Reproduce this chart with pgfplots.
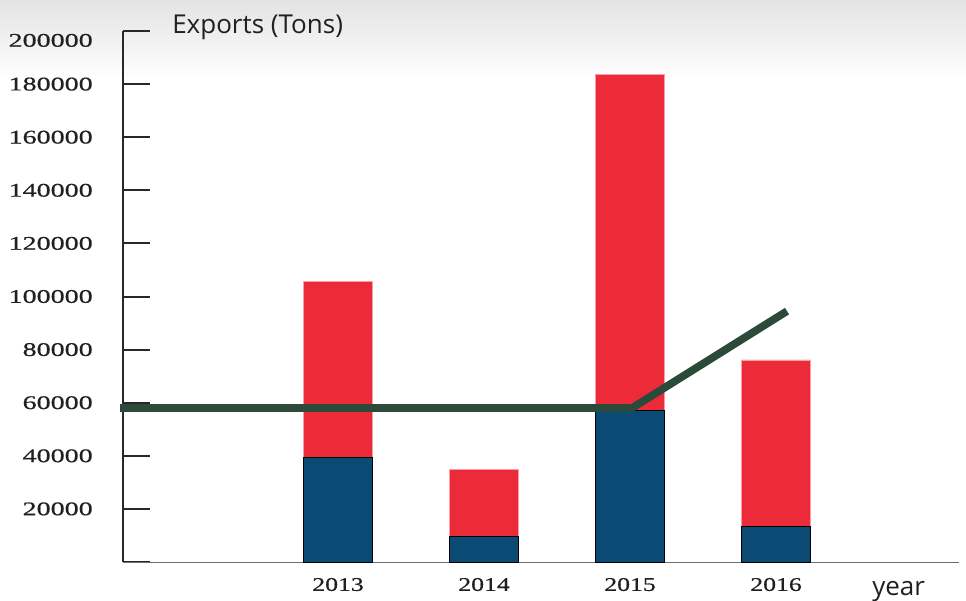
\documentclass[border=0pt]{standalone}
\usepackage{fontspec}
\usepackage{pgfplots}
\pgfplotsset{compat=1.18}
\setmainfont{Open Sans}
\newfontfamily\ytickfont[FakeStretch=1.45,FakeBold=0.6]{Liberation Serif}
\newfontfamily\xtickfont[FakeStretch=1.33,FakeBold=0.6]{Liberation Serif}
\definecolor{barred}{RGB}{237,42,56}
\definecolor{barblue}{RGB}{11,74,116}
\definecolor{linegreen}{RGB}{43,74,58}
\definecolor{textdark}{RGB}{35,31,32}
\definecolor{axisdark}{RGB}{40,40,40}
\definecolor{axisgray}{RGB}{110,110,110}
\begin{document}
\begin{tikzpicture}
\path[use as bounding box] (0pt,0pt) rectangle (724.5pt,-450pt);
\shade[top color=black!11, bottom color=white] (0pt,0pt) rectangle (724.5pt,-60pt);
\begin{axis}[
  at={(92.25pt,-421.5pt)}, anchor=south west,
  scale only axis, width=627pt, height=398.25pt,
  xmin=2011.527, xmax=2017.253, ymin=0, ymax=200000,
  axis lines*=left,
  x axis line style={draw=axisgray, line width=0.75pt},
  y axis line style={draw=axisdark, line width=1.5pt},
  xtick={2013,2014,2015,2016},
  xticklabels={2013,2014,2015,2016},
  xtick style={draw=none},
  ytick={0,20000,40000,60000,80000,100000,120000,140000,160000,180000,200000},
  yticklabels={,20000,40000,60000,80000,100000,120000,140000,160000,180000,\raisebox{-7pt}[9.6pt][0pt]{200000}},
  ytick style={draw=axisdark, line width=1.5pt},
  tick align=inside,
  major tick length=20.25pt,
  yticklabel style={font={\ytickfont\fontsize{14.5}{16}\selectfont}, text=textdark, anchor=east, inner sep=0pt, xshift=-22.5pt},
  xticklabel style={font={\xtickfont\fontsize{14.5}{16}\selectfont}, text=textdark, anchor=north, inner sep=0pt, yshift=-11.8pt},
  scaled y ticks=false,
  clip=false,
]
% total exports (red) and lower component (blue)
\addplot[ybar, bar width=0.473, bar shift=0pt, fill=barred, draw=barred!45] coordinates {(2013,105800) (2014,34900) (2015,183800) (2016,76100)};
\addplot[ybar, bar width=0.473, bar shift=0pt, fill=barblue, draw=black, line width=0.75pt] coordinates {(2013,39500) (2014,9500) (2015,56900) (2016,13400)};
\addplot[linegreen, line width=5.8pt] coordinates {(2011.507,58000) (2015.014,58000) (2016.075,94500)};
\end{axis}
\node[anchor=base west, inner sep=0pt, text=textdark, font=\fontsize{19.5}{22}\selectfont] at (129pt,-25pt) {Exports (Tons)};
\node[anchor=base west, inner sep=0pt, text=textdark, font=\fontsize{19.5}{22}\selectfont] at (654pt,-446.8pt) {year};
\end{tikzpicture}
\end{document}
